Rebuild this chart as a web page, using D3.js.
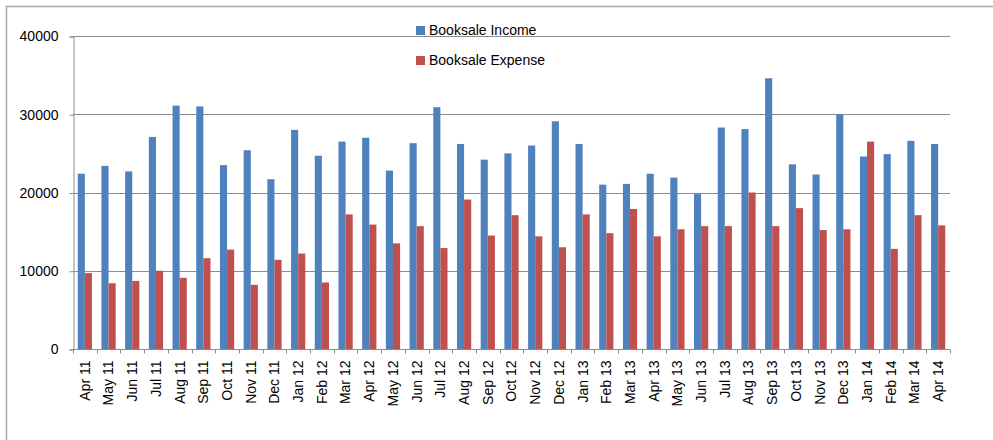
<!DOCTYPE html>
<html>
<head>
<meta charset="utf-8">
<script src="https://cdn.jsdelivr.net/npm/d3@7"></script>
<style>
  body { margin: 0; background: #fff; }
  svg { display: block; font-family: "Liberation Sans", Arial, sans-serif; }
</style>
</head>
<body>
<svg id="chart" width="993" height="440"></svg>
<script>
const months = ["Apr 11","May 11","Jun 11","Jul 11","Aug 11","Sep 11","Oct 11","Nov 11","Dec 11",
  "Jan 12","Feb 12","Mar 12","Apr 12","May 12","Jun 12","Jul 12","Aug 12","Sep 12","Oct 12","Nov 12","Dec 12",
  "Jan 13","Feb 13","Mar 13","Apr 13","May 13","Jun 13","Jul 13","Aug 13","Sep 13","Oct 13","Nov 13","Dec 13",
  "Jan 14","Feb 14","Mar 14","Apr 14"];
const income = [22400,23400,22700,27100,31100,31000,23500,25400,21700,
  28000,24700,26500,27000,22800,26300,30900,26200,24200,25000,26000,29100,
  26200,21000,21100,22400,21900,19800,28300,28100,34600,23600,22300,30000,
  24600,24900,26600,26200];
const expense = [9700,8400,8700,10000,9100,11600,12700,8200,11400,
  12200,8500,17200,15900,13500,15700,12900,19100,14500,17100,14400,13000,
  17200,14800,17900,14400,15300,15700,15700,20000,15700,18000,15200,15300,
  26500,12800,17100,15800];
const seriesNames = ["Booksale Income", "Booksale Expense"];
const colors = ["#4F81BD", "#C0504D"];
const yTicks = [0, 10000, 20000, 30000, 40000];

const svg = d3.select("#chart");
const plotLeft = 73, plotRight = 950, plotTop = 36, plotBottom = 349;

// outer frame
svg.append("rect").attr("x", 6.5).attr("y", 6.5).attr("width", 1000).attr("height", 460)
  .attr("fill", "none").attr("stroke", "#a6a6a6").attr("stroke-width", 1.5);

const x = d3.scaleBand().domain(months).range([plotLeft, plotRight]).padding(0);
const x1 = d3.scaleBand().domain([0, 1]).range([x.bandwidth() * 0.2, x.bandwidth() * 0.8]).padding(0);
const y = d3.scaleLinear().domain([0, 40000]).range([plotBottom, plotTop]);

// gridlines
svg.append("g").selectAll("line").data(yTicks.filter(d => d > 0)).enter().append("line")
  .attr("x1", plotLeft).attr("x2", plotRight)
  .attr("y1", d => Math.round(y(d)) + 0.5).attr("y2", d => Math.round(y(d)) + 0.5)
  .attr("stroke", "#8c8c8c").attr("stroke-width", 1);

// bars
const groups = svg.append("g").selectAll("g").data(months).enter().append("g")
  .attr("transform", d => `translate(${x(d)},0)`);
groups.selectAll("rect").data((d, i) => [income[i], expense[i]]).enter().append("rect")
  .attr("x", (d, j) => x1(j))
  .attr("width", x1.bandwidth())
  .attr("y", d => y(d))
  .attr("height", d => plotBottom - y(d))
  .attr("fill", (d, j) => colors[j]);

// y axis
const yAxis = svg.append("g").attr("transform", `translate(${plotLeft + 0.5},0.5)`)
  .call(d3.axisLeft(y).tickValues(yTicks).tickSize(4).tickPadding(11).tickFormat(d3.format("d")));
yAxis.select(".domain").attr("stroke", "#8c8c8c");
yAxis.selectAll(".tick line").attr("stroke", "#8c8c8c");
yAxis.selectAll("text").attr("font-size", "14px").attr("fill", "#000")
  .style("font-family", "'Liberation Sans', Arial, sans-serif");

// x axis with ticks between categories
const xg = svg.append("g").attr("transform", `translate(0,${plotBottom + 0.5})`);
xg.append("line").attr("x1", plotLeft).attr("x2", plotRight).attr("stroke", "#8c8c8c");
xg.selectAll(".tk").data(months.concat(["end"])).enter().append("line")
  .attr("x1", (d, i) => Math.round(plotLeft + i * x.bandwidth()) + 0.5)
  .attr("x2", (d, i) => Math.round(plotLeft + i * x.bandwidth()) + 0.5)
  .attr("y1", 0).attr("y2", 4).attr("stroke", "#8c8c8c");
xg.selectAll("text").data(months).enter().append("text")
  .attr("transform", d => `translate(${x(d) + x.bandwidth() / 2},11) rotate(-90)`)
  .attr("text-anchor", "end").attr("dy", "0.35em")
  .attr("font-size", "14px").attr("fill", "#000")
  .text(d => d);

// legend
const legend = svg.append("g").selectAll("g").data(seriesNames).enter().append("g")
  .attr("transform", (d, i) => `translate(416,${26 + i * 30})`);
legend.append("rect").attr("width", 9).attr("height", 9).attr("fill", (d, i) => colors[i]);
legend.append("text").attr("x", 13).attr("y", 9).attr("font-size", "14px").attr("fill", "#000")
  .text(d => d);
</script>
</body>
</html>
